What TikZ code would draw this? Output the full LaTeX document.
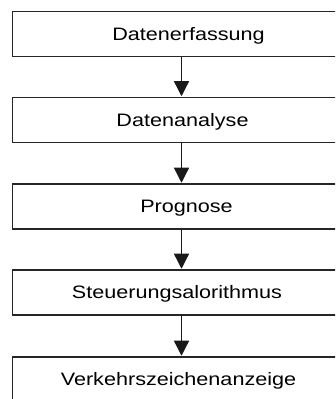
\documentclass[tikz,border=0pt]{standalone}
\usepackage{fontspec}
\setmainfont[FakeStretch=1.2]{Liberation Sans}
\usetikzlibrary{arrows.meta}

\tikzset{
  stepbox/.style={draw=black!85, line width=1.3pt, minimum width=338pt,
    minimum height=45pt, inner sep=0pt},
  lbl/.style={inner sep=0pt, text height=13pt, text depth=0pt,
    font=\fontsize{18}{21}\selectfont},
  flow/.style={draw=black!90, line width=1.3pt,
    -{Triangle[length=15pt,width=15pt]}, shorten >=0.6pt}
}

\begin{document}
\begin{tikzpicture}[x=1pt,y=1pt]
  \useasboundingbox (0,0) rectangle (335,399);
  \begin{scope}
    \clip (0,0) rectangle (335,399);
    % process boxes, top to bottom
    \node[stepbox] (b1) at (181.5,365) {};
    \node[stepbox] (b2) at (181.5,279) {};
    \node[stepbox] (b3) at (181.5,192.5) {};
    \node[stepbox] (b4) at (181.5,106.5) {};
    \node[stepbox] (b5) at (181.5,19.5) {};
  \end{scope}

  % box captions
  \node[lbl] (t1) at ([xshift=7pt]b1.center) {Datenerfassung};
  \node[lbl] (t2) at ([xshift=1pt]b2.center) {Datenanalyse};
  \node[lbl] (t3) at ([xshift=5pt]b3.center) {Prognose};
  \node[lbl] (t4) at ([xshift=-4.5pt]b4.center) {Steuerungsalorithmus};
  \node[lbl] (t5) at ([xshift=-3pt]b5.center) {Verkehrszeichenanzeige};

  % flow arrows
  \draw[flow] (b1.south) -- (b2.north);
  \draw[flow] (b2.south) -- (b3.north);
  \draw[flow] (b3.south) -- (b4.north);
  \draw[flow] (b4.south) -- (b5.north);
\end{tikzpicture}
\end{document}
